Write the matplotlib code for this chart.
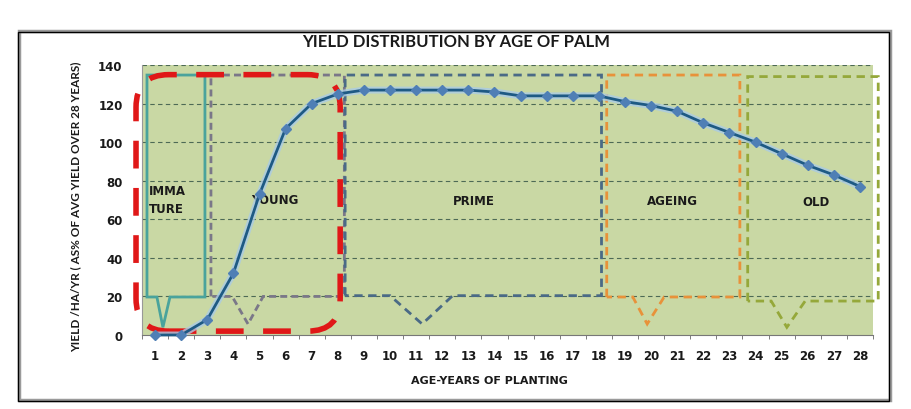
import matplotlib.pyplot as plt
import numpy as np
from matplotlib.patches import Polygon, FancyBboxPatch, Rectangle

# data
ages = list(range(1, 29))
yield_pct = [0, 0, 8, 32, 73, 107, 120, 125, 127, 127, 127, 127, 127, 126,
             124, 124, 124, 124, 121, 119, 116, 110, 105, 100, 94, 88, 83, 77]
y_ticks = [0, 20, 40, 60, 80, 100, 120, 140]
stages = ["IMMA\nTURE", "YOUNG", "PRIME", "AGEING", "OLD"]

fig = plt.figure(figsize=(9.11, 4.10), dpi=100)
fig.patch.set_facecolor("white")
ax = fig.add_axes([0.1559, 0.1805, 0.8024, 0.6585])
ax.set_facecolor("#c9d8a4")

# outer frame
fig.patches.append(Rectangle((0.021, 0.022), 0.956, 0.9, transform=fig.transFigure,
                             fill=False, ec="#9a9a9a", lw=2.5, zorder=0))
fig.patches.append(Rectangle((0.020, 0.020), 0.956, 0.9, transform=fig.transFigure,
                             fill=False, ec="black", lw=1.0, zorder=1))

x = np.arange(1, len(ages) + 1)
ax.set_xlim(0.5, 28.5)
ax.set_ylim(0, 140)

for v in y_ticks[1:]:
    ax.axhline(v, color="#4d6a55", lw=0.8, ls=(0, (4, 3)), zorder=1)

# callout boxes: (x0, x1, top, bottom, pointer left, tip, pointer right, tip y, colour, style)
boxes = [
    (0.69, 2.91, 134.8, 19.7, 1.07, 1.30, 1.57, 4.0, "#4aa39c", "-"),
    (3.14, 8.25, 134.8, 20.0, 3.95, 4.56, 5.14, 5.7, "#7a7788", (0, (2.5, 1.5))),
    (8.28, 18.1, 134.8, 20.4, 10.0, 11.23, 12.4, 5.7, "#4a6a86", (0, (3, 2))),
    (18.3, 23.4, 134.8, 19.7, 19.3, 19.85, 20.5, 5.7, "#e8923a", (0, (3, 2))),
    (23.7, 28.7, 134.0, 17.6, 24.6, 25.2, 25.9, 4.0, "#95a83a", (0, (3, 2))),
]
for x0, x1, top, bot, pl, pt, pr, ty, col, ls in boxes:
    pts = [(x0, bot), (x0, top), (x1, top), (x1, bot), (pr, bot), (pt, ty), (pl, bot)]
    ax.add_patch(Polygon(pts, closed=True, fill=False, ec=col, lw=2.0, ls=ls,
                         zorder=3, clip_on=False))

# red rounded rectangle around immature + young
aspect = (140 / 270) / (1 / 26.1)
ax.add_patch(FancyBboxPatch((0.27, 2.0), 7.82, 133.0,
                            boxstyle="round,pad=0,rounding_size=1.25",
                            mutation_aspect=aspect, fill=False, ec="#e01818",
                            lw=4.0, ls=(0, (5, 3.5)), zorder=5, clip_on=False))

# stage labels
lab_kw = dict(fontsize=8.5, fontweight="bold", color="#1a1a1a", zorder=6)
ax.text(0.78, 70.5, stages[0], ha="left", va="center", linespacing=1.5, **lab_kw)
ax.text(5.6, 70.5, stages[1], ha="center", va="center", **lab_kw)
ax.text(13.2, 69.8, stages[2], ha="center", va="center", **lab_kw)
ax.text(20.8, 69.8, stages[3], ha="center", va="center", **lab_kw)
ax.text(26.3, 69.0, stages[4], ha="center", va="center", **lab_kw)

# yield line
ax.plot(x, yield_pct, color="#a9cbe6", lw=5, alpha=0.8, zorder=6, solid_capstyle="round")
ax.plot(x, yield_pct, color="#1e5a84", lw=2.0, zorder=7, marker="D", markersize=5.5,
        markerfacecolor="#4f7fb5", markeredgecolor="#4f7fb5", clip_on=False)

ax.set_yticks(y_ticks)
ax.set_xticks(x)
ax.set_xticklabels([str(a) for a in ages])
ax.set_xticks(np.arange(0.5, 29, 1), minor=True)
ax.tick_params(axis="x", which="major", length=0, pad=10)
ax.tick_params(axis="x", which="minor", length=3, color="#666666", direction="out")
ax.tick_params(axis="y", length=0, pad=14)
for lbl in ax.get_xticklabels() + ax.get_yticklabels():
    lbl.set_fontsize(8.5)
    lbl.set_fontweight("bold")
    lbl.set_color("#1a1a1a")

for s in ["top", "right"]:
    ax.spines[s].set_visible(False)
ax.spines["left"].set_color("#999999")
ax.spines["bottom"].set_color("#777777")
ax.spines["left"].set_linewidth(0.8)

fig.text(0.5005, 0.897, "YIELD DISTRIBUTION BY AGE OF PALM", ha="center", va="center",
         fontsize=12, fontweight="bold", family="Lato", color="#1a1a1a")
fig.text(0.537, 0.071, "AGE-YEARS OF PLANTING", ha="center", va="center",
         fontsize=8, fontweight="bold", color="#1a1a1a")
fig.text(0.083, 0.495, "YIELD /HA/YR ( AS% OF AVG YIELD OVER 28 YEARS)", rotation=90,
         ha="center", va="center", fontsize=8.5, fontweight="bold", family="Lato",
         color="#1a1a1a")

fig.savefig("out.png", dpi=100)
